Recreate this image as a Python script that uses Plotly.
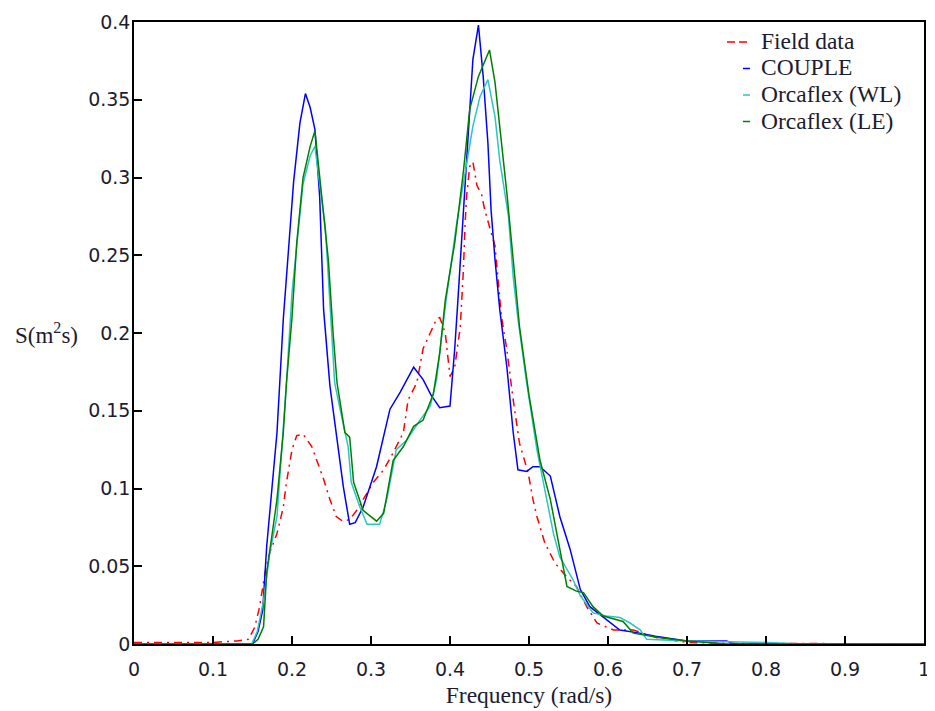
import plotly.graph_objects as go

# Field data (red, dash-dot)
field_f = [0, 0.05, 0.10, 0.13, 0.145, 0.153, 0.159, 0.166, 0.172, 0.181, 0.189, 0.193,
           0.200, 0.206, 0.214, 0.225, 0.233, 0.240, 0.248, 0.256, 0.264, 0.273, 0.282,
           0.290, 0.303, 0.316, 0.328, 0.341, 0.347, 0.358, 0.366, 0.375, 0.383, 0.387,
           0.394, 0.400, 0.406, 0.413, 0.417, 0.419, 0.421, 0.425, 0.429, 0.434, 0.440,
           0.444, 0.450, 0.457, 0.465, 0.472, 0.480, 0.488, 0.499, 0.505, 0.510, 0.520,
           0.533, 0.548, 0.560, 0.573, 0.586, 0.607, 0.632, 0.662, 0.700, 0.750, 1.0]
field_s = [0.001, 0.001, 0.001, 0.002, 0.003, 0.011, 0.024, 0.046, 0.059, 0.071, 0.088, 0.104,
           0.125, 0.134, 0.135, 0.127, 0.116, 0.106, 0.093, 0.082, 0.079, 0.080, 0.086,
           0.093, 0.104, 0.112, 0.123, 0.136, 0.157, 0.168, 0.190, 0.200, 0.209, 0.210,
           0.200, 0.172, 0.178, 0.204, 0.241, 0.269, 0.288, 0.307, 0.310, 0.295, 0.289,
           0.279, 0.269, 0.256, 0.211, 0.189, 0.157, 0.129, 0.110, 0.093, 0.082, 0.065,
           0.052, 0.043, 0.037, 0.024, 0.0135, 0.009, 0.009, 0.004, 0.001, 0.0005, 0.0]

# COUPLE (blue)
couple_f = [0, 0.150, 0.157, 0.163, 0.168, 0.175, 0.181, 0.189, 0.202, 0.210, 0.217, 0.223,
            0.229, 0.235, 0.240, 0.248, 0.256, 0.265, 0.273, 0.280, 0.290, 0.307, 0.324,
            0.337, 0.354, 0.366, 0.376, 0.387, 0.400, 0.406, 0.410, 0.417, 0.423, 0.429,
            0.436, 0.442, 0.448, 0.452, 0.457, 0.463, 0.472, 0.480, 0.486, 0.497, 0.505,
            0.514, 0.527, 0.539, 0.552, 0.565, 0.577, 0.598, 0.615, 0.640, 0.660, 0.700,
            0.750, 0.760, 1.0]
couple_s = [0, 0, 0.008, 0.022, 0.063, 0.100, 0.136, 0.209, 0.297, 0.335, 0.354, 0.345,
            0.331, 0.288, 0.215, 0.166, 0.136, 0.101, 0.077, 0.078, 0.088, 0.114, 0.151,
            0.162, 0.178, 0.170, 0.160, 0.152, 0.153, 0.190, 0.221, 0.279, 0.333, 0.376,
            0.398, 0.365, 0.322, 0.279, 0.247, 0.215, 0.178, 0.136, 0.112, 0.111, 0.114,
            0.114, 0.108, 0.082, 0.061, 0.035, 0.024, 0.016, 0.009, 0.007, 0.005, 0.002,
            0.002, 0.0, 0.0]

# Orcaflex (WL) (cyan)
wl_f = [0, 0.149, 0.156, 0.164, 0.172, 0.181, 0.187, 0.193, 0.200, 0.206, 0.214, 0.223,
        0.229, 0.235, 0.242, 0.246, 0.250, 0.254, 0.260, 0.265, 0.271, 0.275, 0.286, 0.295,
        0.311, 0.320, 0.328, 0.332, 0.345, 0.362, 0.375, 0.383, 0.389, 0.395, 0.408, 0.421,
        0.429, 0.438, 0.448, 0.457, 0.463, 0.474, 0.480, 0.486, 0.497, 0.510, 0.522, 0.531,
        0.539, 0.546, 0.556, 0.565, 0.581, 0.598, 0.615, 0.628, 0.641, 0.649, 0.700, 0.800,
        0.850, 1.0]
wl_s = [0, 0, 0.008, 0.028, 0.059, 0.082, 0.125, 0.168, 0.226, 0.258, 0.296, 0.314,
        0.320, 0.296, 0.269, 0.236, 0.204, 0.168, 0.153, 0.142, 0.127, 0.104, 0.088, 0.077,
        0.077, 0.093, 0.114, 0.125, 0.131, 0.144, 0.153, 0.170, 0.196, 0.221, 0.269, 0.307,
        0.333, 0.352, 0.363, 0.339, 0.311, 0.275, 0.236, 0.209, 0.168, 0.125, 0.093, 0.071,
        0.056, 0.050, 0.041, 0.031, 0.020, 0.018, 0.017, 0.0135, 0.009, 0.003, 0.002, 0.001,
        0.0, 0.0]

# Orcaflex (LE) (green)
le_f = [0, 0.150, 0.157, 0.164, 0.168, 0.181, 0.189, 0.193, 0.200, 0.206, 0.214, 0.223,
        0.229, 0.233, 0.240, 0.246, 0.252, 0.257, 0.267, 0.273, 0.278, 0.290, 0.307, 0.316,
        0.328, 0.341, 0.354, 0.366, 0.379, 0.387, 0.394, 0.406, 0.417, 0.425, 0.436, 0.450,
        0.457, 0.463, 0.472, 0.480, 0.488, 0.500, 0.514, 0.527, 0.539, 0.548, 0.560, 0.569,
        0.581, 0.594, 0.619, 0.632, 0.666, 0.700, 0.750, 1.0]
le_s = [0, 0, 0.003, 0.011, 0.046, 0.093, 0.136, 0.168, 0.210, 0.258, 0.300, 0.320,
        0.330, 0.311, 0.279, 0.247, 0.200, 0.168, 0.136, 0.133, 0.104, 0.086, 0.079, 0.084,
        0.118, 0.127, 0.140, 0.144, 0.161, 0.187, 0.221, 0.258, 0.304, 0.344, 0.365, 0.382,
        0.361, 0.333, 0.290, 0.247, 0.204, 0.160, 0.118, 0.093, 0.061, 0.037, 0.034, 0.033,
        0.024, 0.018, 0.0145, 0.007, 0.004, 0.002, 0.0, 0.0]

x_ticks = [0, 0.1, 0.2, 0.3, 0.4, 0.5, 0.6, 0.7, 0.8, 0.9, 1]
y_ticks = [0, 0.05, 0.1, 0.15, 0.2, 0.25, 0.3, 0.35, 0.4]

series = [
    ('Field data', field_f, field_s, '#ff0000', '8px,5px,2px,5px'),
    ('COUPLE', couple_f, couple_s, '#0000ff', 'solid'),
    ('Orcaflex (WL)', wl_f, wl_s, '#2ec4c4', 'solid'),
    ('Orcaflex (LE)', le_f, le_s, '#008000', 'solid'),
]

serif = 'Liberation Serif'
sans = 'DejaVu Sans'
ink = '#1c1c30'

# plot area in pixels (page body adds 8px offset)
PL, PT, PW, PH = 126, 14, 790, 622


def px_to_paper(px, py):
    return (px - PL) / PW, (PT + PH - py) / PH


fig = go.Figure()

for name, f, s, color, dash in series:
    fig.add_trace(go.Scatter(
        x = f,
        y = s,
        name = name,
        mode = 'lines',
        line = {'color': color, 'width': 1.5, 'dash': dash},
        showlegend = False
    ))

axis_style = {
    'showline': True,
    'mirror': True,
    'linecolor': 'black',
    'linewidth': 1.5,
    'ticks': 'inside',
    'ticklen': 8,
    'tickwidth': 1.5,
    'tickcolor': 'black',
    'showgrid': False,
    'zeroline': False,
    'automargin': False,
    'tickfont': {'family': sans, 'size': 19, 'color': ink},
}

fig.update_xaxes(
    range = [0, 1],
    tickvals = x_ticks,
    ticktext = [f'{v:g}' for v in x_ticks],
    ticklabelstandoff = 7,
    title = {'text': 'Frequency (rad/s)', 'standoff': 8,
             'font': {'family': serif, 'size': 23.5, 'color': ink}},
    **axis_style
)

fig.update_yaxes(
    range = [0, 0.4],
    tickvals = y_ticks,
    ticktext = [f'{v:g}' for v in y_ticks],
    ticklabelstandoff = -2,
    **axis_style
)

# hand-made legend, matching the MATLAB look
annotations = []
shapes = []
for i, (name, f, s, color, dash) in enumerate(series):
    row_y = 33 + 26.5 * i
    tx, ty = px_to_paper(751, row_y)
    annotations.append({
        'text': name, 'xref': 'paper', 'yref': 'paper', 'x': tx, 'y': ty,
        'xanchor': 'left', 'yanchor': 'middle', 'showarrow': False,
        'font': {'family': serif, 'size': 23.5, 'color': ink},
    })
    x0 = 719 if i == 0 else 735
    a0, b0 = px_to_paper(x0, row_y + 1)
    a1, _ = px_to_paper(742, row_y + 1)
    shapes.append({
        'type': 'line', 'xref': 'paper', 'yref': 'paper',
        'x0': a0, 'x1': a1, 'y0': b0, 'y1': b0,
        'line': {'color': color, 'width': 1.5,
                 'dash': '8px,4px' if i == 0 else 'solid'},
    })

annotations.append({
    'text': 'S(m<sup>2</sup>s)',
    'xref': 'paper',
    'yref': 'y',
    'x': (46 - 8 - PL) / PW,
    'y': 0.2,
    'xanchor': 'center',
    'yanchor': 'middle',
    'showarrow': False,
    'font': {'family': serif, 'size': 23, 'color': ink},
})

fig.update_layout({
    'width': 927,
    'height': 703,
    'plot_bgcolor': 'white',
    'paper_bgcolor': 'white',
    'showlegend': False,
    'margin': {'t': PT, 'b': 703 - PT - PH, 'l': PL, 'r': 927 - PL - PW},
    'annotations': annotations,
    'shapes': shapes,
})

fig.write_html('out.html')
